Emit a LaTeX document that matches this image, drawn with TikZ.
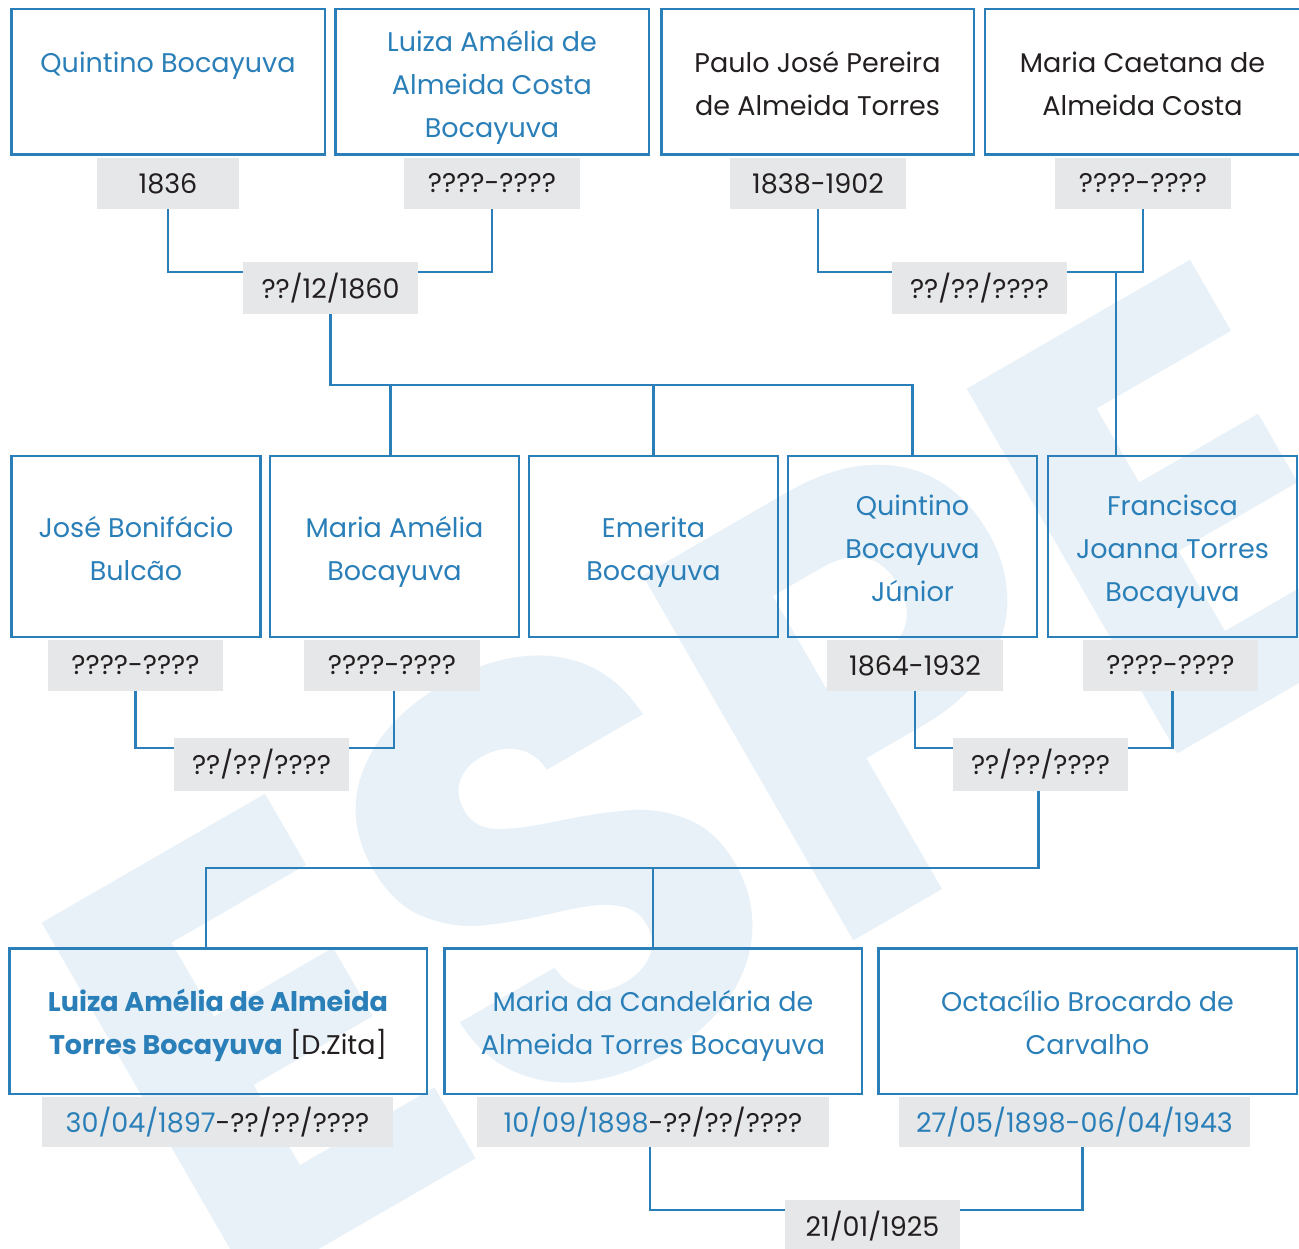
\documentclass[tikz,border=0pt]{standalone}
\usepackage{fontspec}
\setmainfont{Poppins}
\definecolor{azul}{HTML}{2A7FB8}
\definecolor{cinza}{HTML}{E6E7E8}
\definecolor{tinta}{HTML}{231F20}
\definecolor{marca}{HTML}{E8F1F8}
\newcommand\alto{\rule{0pt}{37pt}}
\tikzset{
  pessoa/.style={draw=azul, line width=2.5pt, inner sep=0pt, align=center,
    text=azul, font=\fontsize{27}{43}\selectfont, execute at end node=\strut},
  datas/.style={fill=cinza, inner sep=0pt, text=tinta,
    font=\fontsize{27}{43}\selectfont},
  ligacao/.style={draw=azul, line width=2.5pt},
}

\begin{document}
\begin{tikzpicture}[x=1pt,y=-1pt]
\useasboundingbox (0,0) rectangle (1299,1249);
\clip (0,0) rectangle (1299,1249);
% marca d'agua
\node [text=marca, rotate=30, inner sep=0pt, font=\fontsize{600}{600}\selectfont\bfseries] (marca) at (718,775) {ESPE};

% avos
\node [pessoa, minimum width=313.5pt, minimum height=145.5pt] (qb) at (168,82) {\alto Quintino Bocayuva\\~};
\node [pessoa, minimum width=313.5pt, minimum height=145.5pt] (lac) at (492,82) {\alto Luiza Amélia de\\Almeida Costa\\Bocayuva};
\node [pessoa, text=tinta, minimum width=312.5pt, minimum height=145.5pt] (pj) at (817.5,82) {\alto Paulo José Pereira\\de Almeida Torres};
\node [pessoa, text=tinta, minimum width=315pt, minimum height=145.5pt] (mc) at (1142.5,82) {\alto Maria Caetana de\\Almeida Costa};
\node [datas, minimum width=142pt, minimum height=51pt] (dqb) at (168,183.5) {1836};
\node [datas, minimum width=176pt, minimum height=51pt] (dlac) at (492,183.5) {????-????};
\node [datas, minimum width=176pt, minimum height=51pt] (dpj) at (818,183.5) {1838-1902};
\node [datas, minimum width=176pt, minimum height=51pt] (dmc) at (1143,183.5) {????-????};
\node [datas, minimum width=175pt, minimum height=52pt] (c1) at (330.5,288) {??/12/1860};
\node [datas, minimum width=175pt, minimum height=52pt] (c2) at (979.5,288) {??/??/????};

% pais
\node [pessoa, minimum width=249pt, minimum height=181pt] (jb) at (136,546.5) {\alto José Bonifácio\\Bulcão};
\node [pessoa, minimum width=249pt, minimum height=181pt] (ma) at (394.5,546.5) {\alto Maria Amélia\\Bocayuva};
\node [pessoa, minimum width=249pt, minimum height=181pt] (eb) at (653.5,546.5) {\alto Emerita\\Bocayuva};
\node [pessoa, minimum width=249pt, minimum height=181pt] (qj) at (912.5,546.5) {\alto Quintino\\Bocayuva\\Júnior};
\node [pessoa, minimum width=249pt, minimum height=181pt] (fj) at (1172.5,546.5) {\alto Francisca\\Joanna Torres\\Bocayuva};
\node [datas, minimum width=175pt, minimum height=51pt] (djb) at (135.5,665.5) {????-????};
\node [datas, minimum width=176pt, minimum height=51pt] (dma) at (392,665.5) {????-????};
\node [datas, minimum width=176pt, minimum height=51pt] (dqj) at (915,665.5) {1864-1932};
\node [datas, minimum width=175pt, minimum height=51pt] (dfj) at (1170.5,665.5) {????-????};
\node [datas, minimum width=175pt, minimum height=53pt] (c3) at (261.5,764.5) {??/??/????};
\node [datas, minimum width=175pt, minimum height=53pt] (c4) at (1040.5,764.5) {??/??/????};

% filhas
\node [pessoa, minimum width=417.5pt, minimum height=145.5pt] (la) at (218,1021) {\alto\textbf{Luiza Amélia de Almeida}\\\textbf{Torres Bocayuva} \textcolor{tinta}{[D.Zita]}};
\node [pessoa, minimum width=417.5pt, minimum height=145.5pt] (mcd) at (653,1021) {\alto Maria da Candelária de\\Almeida Torres Bocayuva};
\node [pessoa, minimum width=418.5pt, minimum height=145.5pt] (ob) at (1087.5,1021) {\alto Octacílio Brocardo de\\Carvalho};
\node [datas, minimum width=351pt, minimum height=50pt] (dla) at (217.5,1122) {\textcolor{azul}{30/04/1897}-??/??/????};
\node [datas, minimum width=352pt, minimum height=50pt] (dmcd) at (653,1122) {\textcolor{azul}{10/09/1898}-??/??/????};
\node [datas, text=azul, minimum width=351pt, minimum height=50pt] (dob) at (1074.5,1122) {27/05/1898-06/04/1943};
\node [datas, minimum width=175pt, minimum height=52pt] (c5) at (872.5,1226) {21/01/1925};

% ligacoes
\draw [ligacao] (dqb.south) |- ([yshift=-10pt]c1.north west);
\draw [ligacao] (dlac.south) |- ([yshift=-10pt]c1.north east);
\draw [ligacao] (dpj.south) |- ([yshift=-10pt]c2.north west);
\draw [ligacao] (dmc.south) |- ([yshift=-10pt]c2.north east);
\coordinate (r2) at (1116,272);
\draw [ligacao] (r2) -- (r2 |- fj.north);
\coordinate (r1) at (330.5,385);
\draw [ligacao] (c1.south) -- (r1) -| (qj.north);
\draw [ligacao] ([xshift=-4pt]ma.north) -- ([xshift=-4pt]ma.north |- r1);
\draw [ligacao] (eb.north) -- (eb.north |- r1);
\draw [ligacao] (djb.south) |- ([yshift=-10pt]c3.north west);
\draw [ligacao] ([xshift=2pt]dma.south) |- ([yshift=-10pt]c3.north east);
\draw [ligacao] (dqj.south) |- ([yshift=-10pt]c4.north west);
\draw [ligacao] ([xshift=2pt]dfj.south) |- ([yshift=-10pt]c4.north east);
\coordinate (r3) at (206,868);
\draw [ligacao] ([xshift=-2pt]c4.south) |- (r3) -- (r3 |- la.north);
\draw [ligacao] (mcd.north) -- (mcd.north |- r3);
\draw [ligacao] ([xshift=-3pt]dmcd.south) |- ([yshift=-10pt]c5.north west);
\draw [ligacao] ([xshift=8pt]dob.south) |- ([yshift=-10pt]c5.north east);
\end{tikzpicture}
\end{document}
